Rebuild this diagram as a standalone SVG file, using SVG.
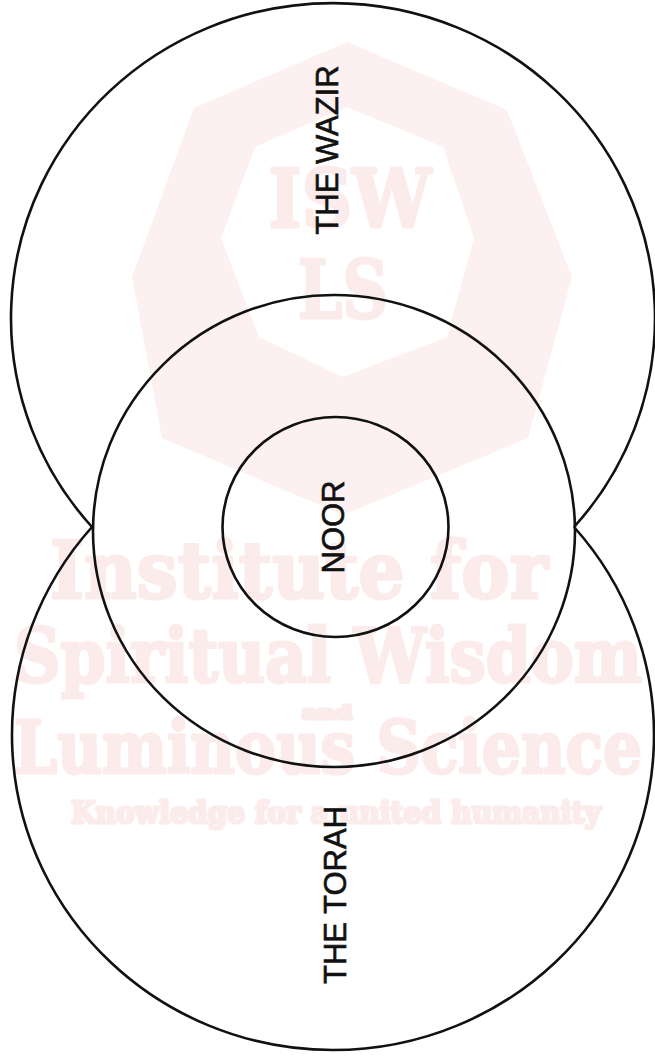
<svg xmlns="http://www.w3.org/2000/svg" width="655" height="1056" viewBox="0 0 655 1056">
<style>
.ln{fill:none;stroke:#111;stroke-width:2.6}
.lbl{font-family:"Liberation Sans",Arial,sans-serif;font-size:31px;fill:#111;stroke:#111;stroke-width:0.6;text-anchor:middle}
.wm{font-family:"DejaVu Serif","Liberation Serif",serif;font-weight:bold;fill:#fbebeb;stroke:#fbebeb;stroke-width:3;stroke-linejoin:round;text-anchor:middle}
</style>
<rect width="655" height="1056" fill="#ffffff"/>
<g id="watermark">
<path fill="#fcf0f0" fill-rule="evenodd" d="M347,42 L507,110 L572,277 L528,438 L343,515 L162,438 L132,277 L194,108 Z M347,107 L443,147 L474,238 L447,337 L343,377 L259,337 L221,238 L255,147 Z"/>
<text class="wm" x="350" y="227" font-size="80" textLength="163" lengthAdjust="spacingAndGlyphs">ISW</text>
<text class="wm" x="343" y="318" font-size="80" textLength="90" lengthAdjust="spacingAndGlyphs">LS</text>
<text class="wm" x="299" y="598" font-size="78" textLength="498" lengthAdjust="spacingAndGlyphs">Institute for</text>
<text class="wm" x="328" y="682" font-size="74" textLength="628" lengthAdjust="spacingAndGlyphs">Spiritual Wisdom</text>
<text class="wm" x="327" y="719" font-size="18" textLength="50" lengthAdjust="spacingAndGlyphs" stroke-width="1">and</text>
<text class="wm" x="328" y="773" font-size="72" textLength="628" lengthAdjust="spacingAndGlyphs">Luminous Science</text>
<text class="wm" x="336" y="823" font-size="30" textLength="530" lengthAdjust="spacingAndGlyphs" stroke-width="1.2">Knowledge for a united humanity</text>
</g>
<g id="wazir">
<path class="ln" d="M92,527 A322,315 0 1 1 574,527"/>
<text class="lbl" transform="translate(338,150) rotate(-90)">THE WAZIR</text>
</g>
<g id="torah">
<path class="ln" d="M92,527 A321,315 0 1 0 574,527"/>
<text class="lbl" transform="translate(346,895) rotate(-90)">THE TORAH</text>
</g>
<g id="middle">
<ellipse class="ln" cx="334" cy="531" rx="241" ry="236"/>
</g>
<g id="noor">
<ellipse class="ln" cx="335.5" cy="527" rx="113" ry="110"/>
<text class="lbl" transform="translate(344,527) rotate(-90)">NOOR</text>
</g>
</svg>
